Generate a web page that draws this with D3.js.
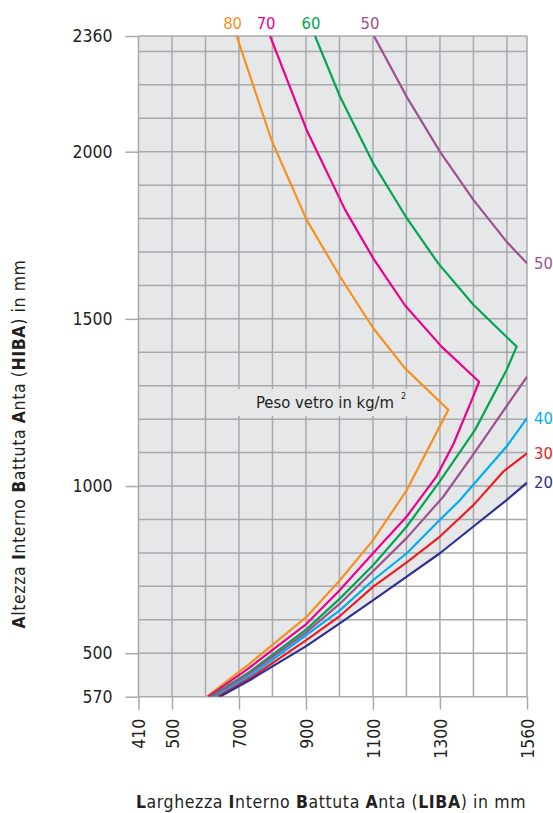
<!DOCTYPE html>
<html><head><meta charset="utf-8">
<script src="https://cdn.jsdelivr.net/npm/d3@7/dist/d3.min.js"></script>
<style>
body{margin:0;background:#fff}
text{font-family:"DejaVu Sans Condensed","DejaVu Sans",sans-serif;font-stretch:condensed}
</style>
</head><body>
<svg id="c" width="553" height="813"></svg>
<script>
// ---- data ----
const xTickValues = [400, 500, 700, 900, 1100, 1300, 1560];
const xTickLabels = ["410", "500", "700", "900", "1100", "1300", "1560"];
const yTickValues = [370, 500, 1000, 1500, 2000, 2346];
const yTickLabels = ["570", "500", "1000", "1500", "2000", "2360"];
const xGridValues = [400, 500, 600, 700, 800, 900, 1000, 1100, 1200, 1300, 1400, 1500, 1560];
const yGridValues = [370, 500, 600, 700, 800, 900, 1000, 1100, 1200, 1300, 1400, 1500, 1600, 1700, 1800, 1900, 2000, 2100, 2200, 2300, 2346];

const seriesNames = ["80", "70", "60", "50", "50", "40", "30", "20"];
const seriesColors = ["#f7901e", "#ec008c", "#00a651", "#a0508f", "#a0508f", "#00aeef", "#ed1c24", "#2e3192"];

const s80 = [[693,2346],[797,2035],[902,1796],[1002,1626],[1101,1472],[1196,1352],[1325,1228],[1294,1168],[1201,988],[1101,839],[1002,719],[902,609],[733,470],[604,370]];
const s70 = [[793,2346],[902,2065],[1017,1826],[1101,1681],[1196,1540],[1305,1417],[1417,1312],[1395,1257],[1340,1125],[1290,1029],[1201,909],[1101,800],[1002,690],[902,588],[733,458],[608,370]];
const s60 = [[927,2346],[1002,2164],[1101,1965],[1201,1801],[1295,1666],[1400,1542],[1529,1417],[1499,1347],[1405,1168],[1300,1015],[1201,879],[1101,764],[1002,664],[902,572],[733,445],[616,370]];
const s50a = [[1103,2346],[1201,2164],[1300,2000],[1400,1856],[1499,1731],[1560,1666]];
const s50b = [[1560,1327],[1395,1088],[1310,968],[1201,845],[1101,746],[1002,649],[902,563],[733,440],[622,370]];
const s40 = [[1560,1203],[1499,1118],[1360,958],[1300,899],[1201,799],[1101,719],[1002,629],[902,555],[733,432],[631,370]];
const s30 = [[1560,1098],[1489,1043],[1400,943],[1300,849],[1201,772],[1101,699],[1002,612],[902,540],[733,425],[637,370]];
const s20 = [[1560,1010],[1499,958],[1400,879],[1300,799],[1201,729],[1101,659],[1002,590],[902,522],[733,420],[643,370]];
const seriesData = [s80, s70, s60, s50a, s50b, s40, s30, s20];

const topLabels = [["80", 693], ["70", 793], ["60", 927], ["50", 1103]];
const topLabelColors = ["#f7901e", "#ec008c", "#00a651", "#a0508f"];
const rightLabels = [["50", 1666], ["40", 1203], ["30", 1098], ["20", 1010]];
const rightLabelColors = ["#a0508f", "#00aeef", "#ed1c24", "#2e3192"];

// ---- drawing ----
const svg = d3.select("#c");
const pL = 138.5, pR = 527, pT = 36, pB = 696.7;
const x = d3.scaleLinear().domain([400, 1560]).range([pL, pR]);
const y = d3.scaleLinear().domain([370, 2346]).range([pB, pT]);
const gridColor = "#a7a9ac";
const FF = '"DejaVu Sans Condensed","DejaVu Sans",sans-serif';
const FT = '"DejaVu Sans",sans-serif';

svg.append("defs").append("clipPath").attr("id", "plot")
  .append("rect").attr("x", pL).attr("y", pT).attr("width", pR - pL).attr("height", pB - pT);

const line = d3.line().x(d => x(d[0])).y(d => y(d[1]));

// gray plot background, white area below the 20 curve
svg.append("rect").attr("x", pL).attr("y", pT).attr("width", pR - pL).attr("height", pB - pT).attr("fill", "#e6e7e8");
svg.append("path")
  .attr("d", d3.area().x(d => x(d[0])).y0(pB).y1(d => y(d[1]))(s20))
  .attr("fill", "#ffffff");

// grid
svg.append("g").selectAll("line").data(xGridValues).join("line")
  .attr("x1", d => x(d)).attr("x2", d => x(d))
  .attr("y1", pT).attr("y2", pB)
  .attr("stroke", gridColor).attr("stroke-width", 1.5);
svg.append("g").selectAll("line").data(yGridValues).join("line")
  .attr("x1", pL).attr("x2", pR)
  .attr("y1", d => y(d)).attr("y2", d => y(d))
  .attr("stroke", gridColor).attr("stroke-width", 1.5);

// axes
const yAxis = d3.axisLeft(y).tickValues(yTickValues)
  .tickFormat((d, i) => yTickLabels[i]).tickSize(13).tickPadding(13);
const gy = svg.append("g").attr("transform", `translate(${pL},0)`).call(yAxis);
gy.select(".domain").remove();
gy.selectAll(".tick line").attr("stroke", gridColor).attr("stroke-width", 1.5);
gy.selectAll(".tick text").attr("font-size", 17.5).attr("fill", "#231f20").attr("font-family", FF);

const xAxis = d3.axisBottom(x).tickValues(xTickValues)
  .tickFormat((d, i) => xTickLabels[i]).tickSize(13).tickPadding(0);
const gx = svg.append("g").attr("transform", `translate(0,${pB})`).call(xAxis);
gx.select(".domain").remove();
gx.selectAll(".tick line").attr("stroke", gridColor).attr("stroke-width", 1.5);
gx.selectAll(".tick text").attr("font-size", 17.5).attr("fill", "#231f20").attr("font-family", FF)
  .attr("text-anchor", "end").attr("transform", "translate(0,22) rotate(-90)")
  .attr("x", 0).attr("y", 0).attr("dy", "0.35em");

// label box "Peso vetro"
svg.append("rect").attr("x", 238).attr("y", y(1290)).attr("width", 171)
  .attr("height", y(1210) - y(1290)).attr("fill", "#e6e7e8");
svg.append("text").attr("x", 256).attr("y", 408).attr("font-size", 16.5).attr("fill", "#231f20")
  .text("Peso vetro in kg/m");
svg.append("text").attr("x", 401).attr("y", 399).attr("font-size", 9).attr("fill", "#231f20").text("2");

// curves
svg.append("g").attr("clip-path", "url(#plot)").selectAll("path").data(seriesData).join("path")
  .attr("d", line).attr("fill", "none")
  .attr("stroke", (d, i) => seriesColors[i]).attr("stroke-width", 2.2)
  .attr("stroke-linejoin", "round");

// curve labels
svg.append("g").selectAll("text").data(topLabels).join("text")
  .attr("x", d => x(d[1]) - 4).attr("y", 29).attr("text-anchor", "middle")
  .attr("font-size", 16.5).attr("fill", (d, i) => topLabelColors[i]).text(d => d[0]);
svg.append("g").selectAll("text").data(rightLabels).join("text")
  .attr("x", pR + 7).attr("y", d => y(d[1])).attr("dy", "0.35em")
  .attr("font-size", 16.5).attr("fill", (d, i) => rightLabelColors[i]).text(d => d[0]);

// axis titles
const xt = svg.append("text").attr("x", 331).attr("y", 808).attr("text-anchor", "middle")
  .attr("font-size", 17.5).attr("letter-spacing", 0.6).attr("font-family", FT).attr("font-stretch", "normal").attr("fill", "#231f20");
[["L",1],["arghezza ",0],["I",1],["nterno ",0],["B",1],["attuta ",0],["A",1],["nta (",0],["LIBA",1],[") in mm",0]]
  .forEach(p => xt.append("tspan").attr("font-weight", p[1] ? "bold" : "normal").text(p[0]));
const yt = svg.append("text").attr("transform", "translate(25,444) rotate(-90)").attr("text-anchor", "middle")
  .attr("font-size", 17.5).attr("letter-spacing", 0.6).attr("font-family", FT).attr("font-stretch", "normal").attr("fill", "#231f20");
[["A",1],["ltezza ",0],["I",1],["nterno ",0],["B",1],["attuta ",0],["A",1],["nta (",0],["HIBA",1],[") in mm",0]]
  .forEach(p => yt.append("tspan").attr("font-weight", p[1] ? "bold" : "normal").text(p[0]));
</script>
</body></html>
